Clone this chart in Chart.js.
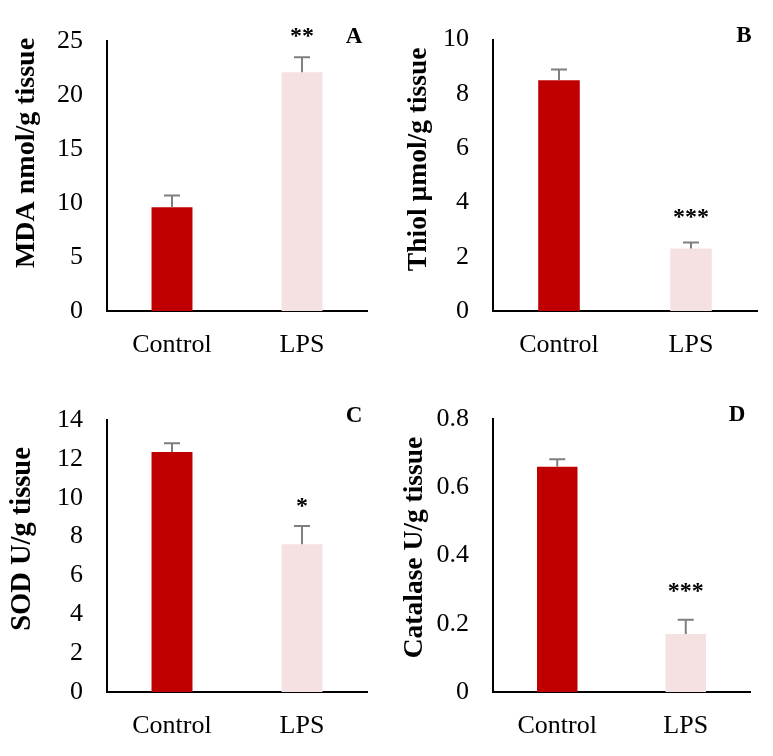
<!DOCTYPE html>
<html>
<head>
<meta charset="utf-8">
<script src="https://cdn.jsdelivr.net/npm/chart.js"></script>
<style>
html, body { margin: 0; padding: 0; background: #fff; }
#wrap { position: relative; width: 773px; height: 756px; }
canvas { position: absolute; }
</style>
</head>
<body>
<div id="wrap">
  <canvas id="panelA" width="386" height="370" style="left:0;top:0"></canvas>
  <canvas id="panelB" width="387" height="370" style="left:386px;top:0"></canvas>
  <canvas id="panelC" width="386" height="386" style="left:0;top:370px"></canvas>
  <canvas id="panelD" width="387" height="386" style="left:386px;top:370px"></canvas>
</div>
<script>
var groups = ['Control', 'LPS'];
var barColors = ['#C00000', '#F5E1E1'];

var mdaMeans = [9.6, 22.1];
var mdaErrors = [1.1, 1.4];
var mdaStars = ['', '**'];

var thiolMeans = [8.5, 2.3];
var thiolErrors = [0.4, 0.22];
var thiolStars = ['', '***'];

var sodMeans = [12.35, 7.6];
var sodErrors = [0.45, 0.95];
var sodStars = ['', '*'];

var catalaseMeans = [0.66, 0.17];
var catalaseErrors = [0.022, 0.042];
var catalaseStars = ['', '***'];

var serif = '"Liberation Serif", "Times New Roman", serif';

function makePanel(id, p) {
    var canvas = document.getElementById(id);
    var W = canvas.width, H = canvas.height;

    // error bars, stars, panel letter and rotated axis title
    var extras = {
        id: 'extras',
        afterDatasetsDraw: function (chart) {
            var ctx = chart.ctx, ys = chart.scales.y, area = chart.chartArea;
            var meta = chart.getDatasetMeta(0);
            ctx.save();
            ctx.strokeStyle = '#7f7f7f';
            ctx.lineWidth = 2;
            ctx.fillStyle = '#000';
            ctx.textAlign = 'center';
            ctx.textBaseline = 'middle';
            meta.data.forEach(function (bar, i) {
                var base = ys.getPixelForValue(p.means[i]);
                var top = ys.getPixelForValue(p.means[i] + p.errors[i]);
                ctx.beginPath();
                ctx.moveTo(bar.x, base);
                ctx.lineTo(bar.x, top);
                ctx.moveTo(bar.x - 8, top);
                ctx.lineTo(bar.x + 8, top);
                ctx.stroke();
                if (p.stars[i]) {
                    ctx.font = 'bold 24px ' + serif;
                    ctx.fillText(p.stars[i], bar.x, top - p.starGap);
                }
            });
            ctx.font = 'bold 23px ' + serif;
            ctx.fillText(p.letter, area.right - 13, area.top - 4);

            ctx.translate(p.titleX, (area.top + area.bottom) / 2 + p.titleShift);
            ctx.rotate(-Math.PI / 2);
            ctx.font = 'bold ' + p.titleSize + 'px ' + serif;
            ctx.fillText(p.title, 0, 0);
            ctx.restore();
        }
    };

    return new Chart(canvas, {
        type: 'bar',
        data: {
            labels: groups,
            datasets: [{
                data: p.means,
                backgroundColor: barColors,
                barPercentage: 0.315,
                categoryPercentage: 1
            }]
        },
        options: {
            responsive: false,
            animation: false,
            layout: { padding: { left: 0, right: W - p.right, top: p.top, bottom: 0 } },
            plugins: { legend: { display: false }, tooltip: { enabled: false } },
            scales: {
                x: {
                    grid: { display: false, drawTicks: false },
                    border: { color: '#000', width: 2 },
                    ticks: { color: '#000', padding: 19, font: { family: serif, size: 26 } },
                    afterFit: function (s) { s.height = H - p.bottom; }
                },
                y: {
                    min: 0,
                    max: p.max,
                    grid: { display: false, drawTicks: false },
                    border: { color: '#000', width: 2 },
                    ticks: { stepSize: p.step, color: '#000', padding: 24, font: { family: serif, size: 26 } },
                    afterFit: function (s) { s.width = 107; }
                }
            }
        },
        plugins: [extras]
    });
}

makePanel('panelA', {
    means: mdaMeans, errors: mdaErrors, stars: mdaStars, letter: 'A', starGap: 20,
    max: 25, step: 5, top: 41, bottom: 311, right: 367,
    title: 'MDA nmol/g tissue', titleSize: 28, titleX: 27, titleShift: -23
});
makePanel('panelB', {
    means: thiolMeans, errors: thiolErrors, stars: thiolStars, letter: 'B', starGap: 25,
    max: 10, step: 2, top: 38, bottom: 311, right: 371,
    title: 'Thiol \u00b5mol/g tissue', titleSize: 27.5, titleX: 33, titleShift: -16
});
makePanel('panelC', {
    means: sodMeans, errors: sodErrors, stars: sodStars, letter: 'C', starGap: 19,
    max: 14, step: 2, top: 50, bottom: 322, right: 367,
    title: 'SOD U/g tissue', titleSize: 28.5, titleX: 23, titleShift: -17
});
makePanel('panelD', {
    means: catalaseMeans, errors: catalaseErrors, stars: catalaseStars, letter: 'D', starGap: 28,
    max: 0.8, step: 0.2, top: 49, bottom: 322, right: 364,
    title: 'Catalase U/g tissue', titleSize: 27.5, titleX: 29, titleShift: -8
});
</script>
</body>
</html>
